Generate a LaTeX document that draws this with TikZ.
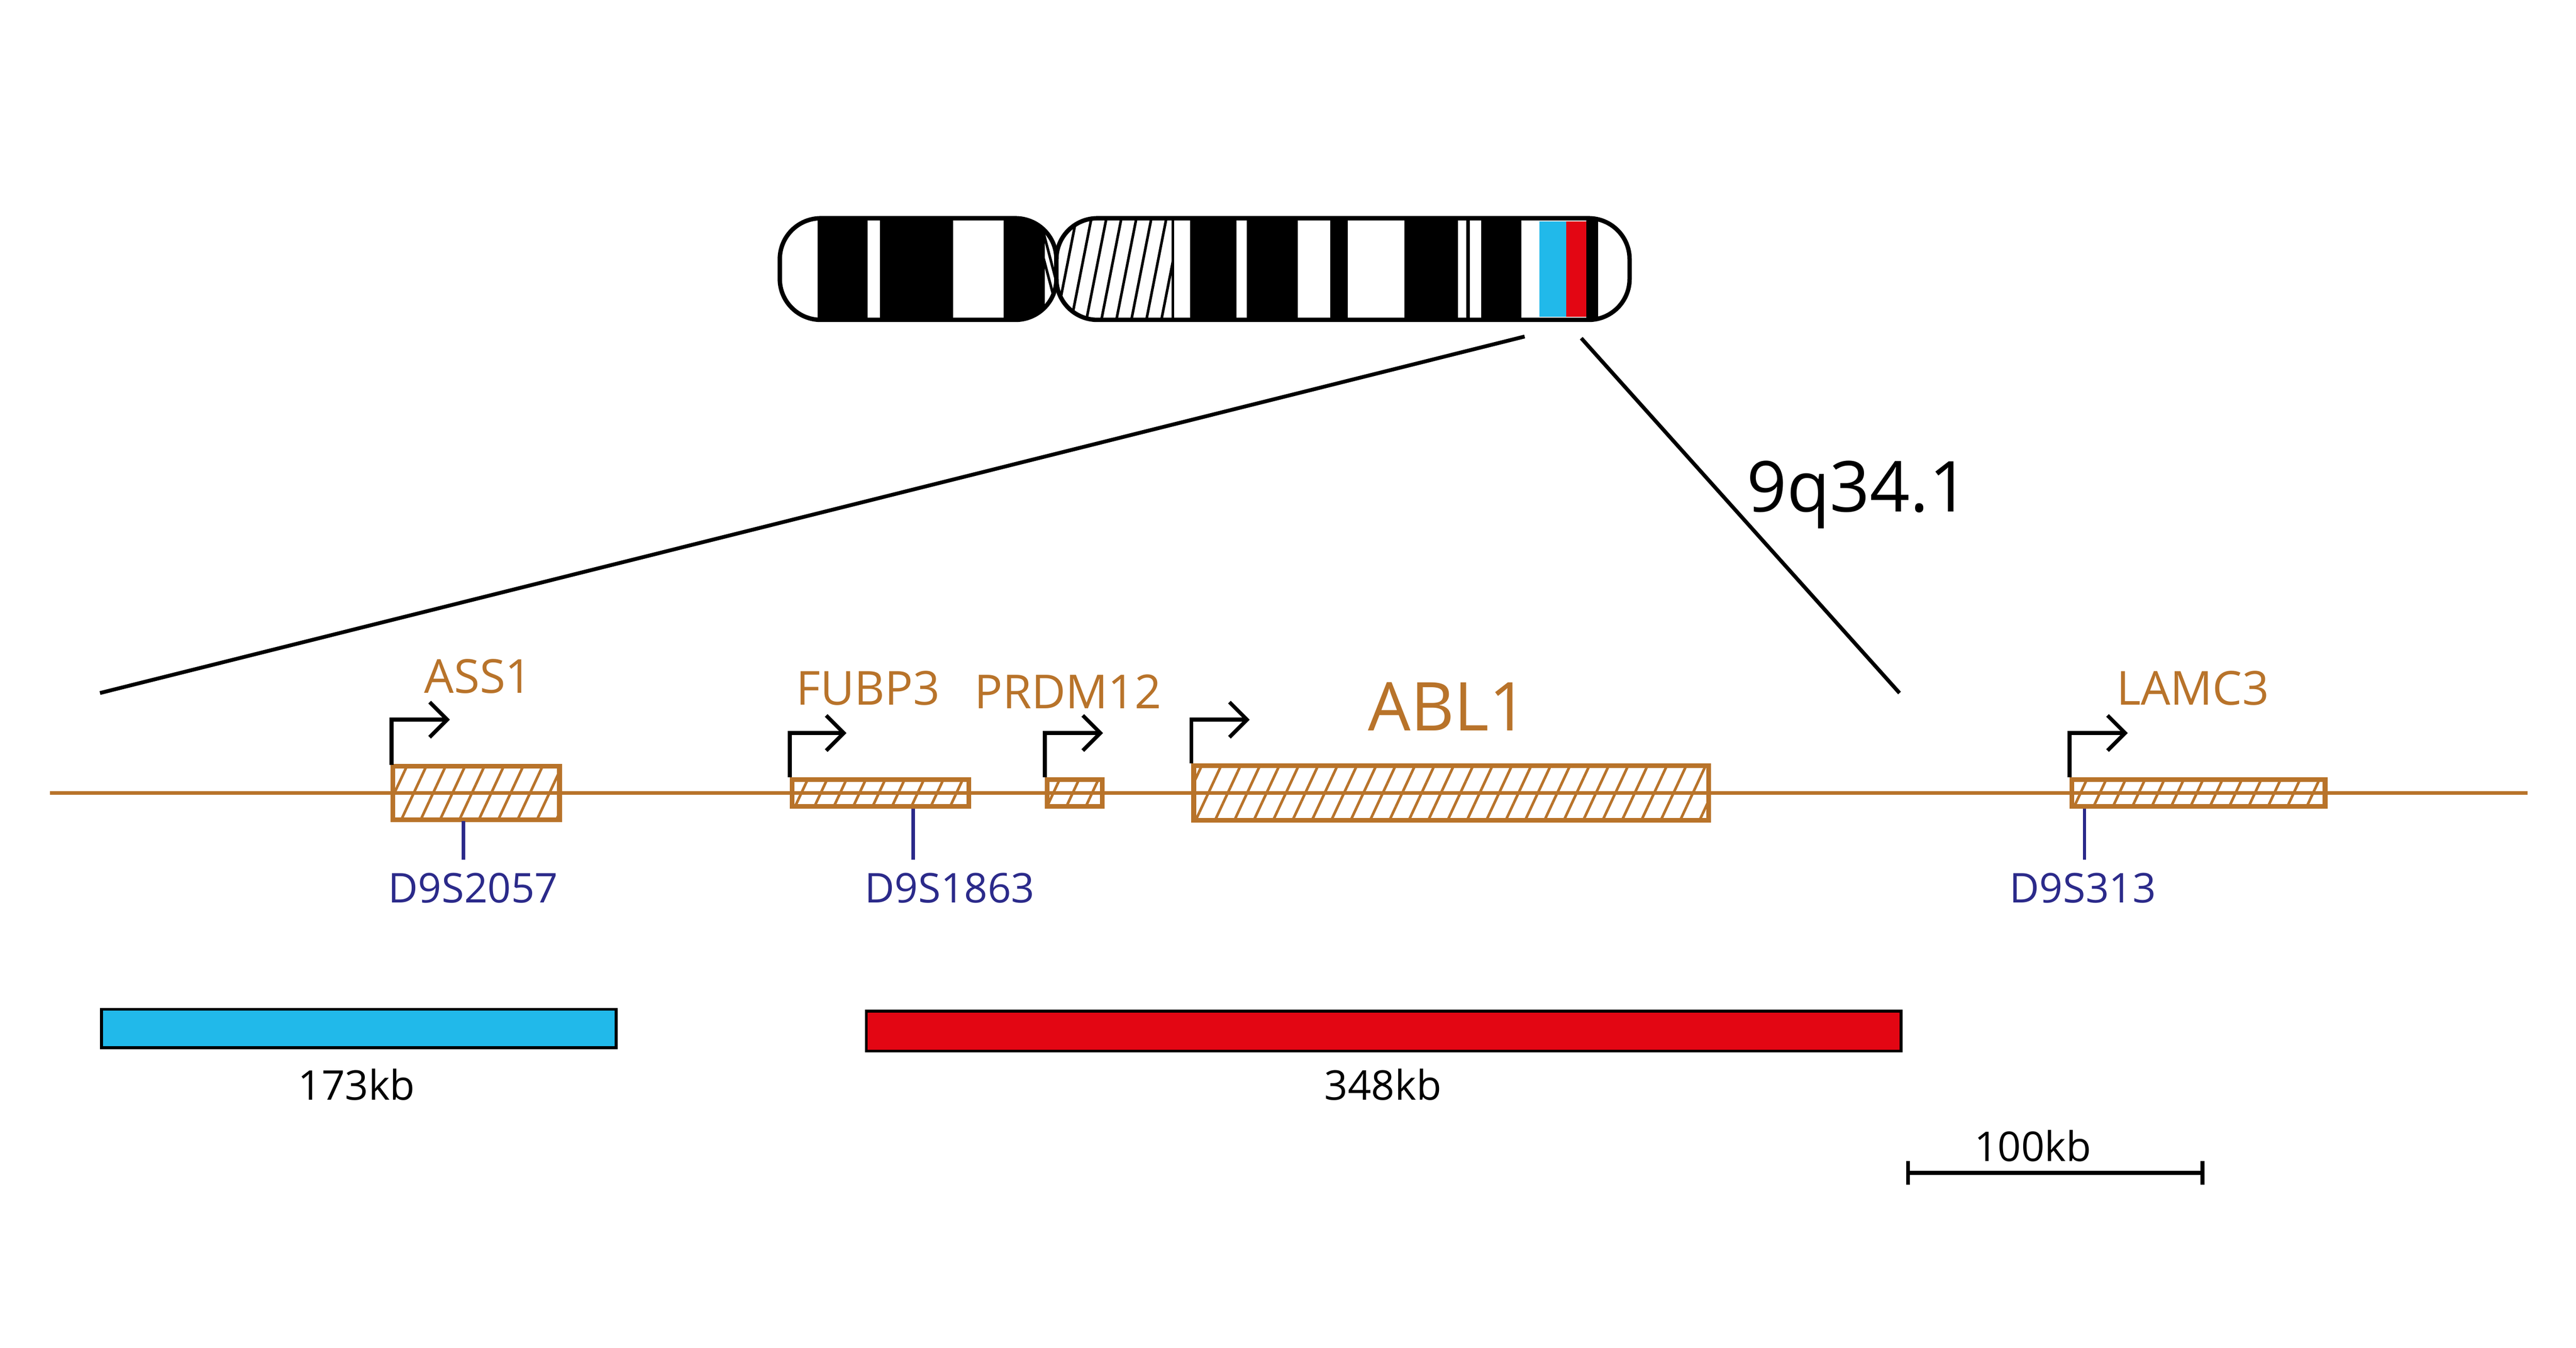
\documentclass[tikz,border=0pt]{standalone}
\usepackage{fontspec}
\setmainfont{Open Sans}
\usetikzlibrary{patterns.meta,arrows.meta}
\definecolor{gene}{HTML}{B8732A}
\definecolor{mknavy}{HTML}{2B2A8A}
\definecolor{cblue}{HTML}{21B9EA}
\definecolor{cred}{HTML}{E30613}
\tikzset{
  genebox/.style={draw=gene,line width=1.6pt,rectangle,inner sep=0pt,
    pattern={Lines[angle=65,distance=6pt,line width=0.9pt]},pattern color=gene},
  glabel/.style={text=gene,font=\fontsize{16}{18}\selectfont,inner sep=0pt},
  mlabel/.style={text=mknavy,font=\fontsize{14}{16}\selectfont,inner sep=0pt},
  klabel/.style={font=\fontsize{14}{16}\selectfont,inner sep=0pt},
  prom/.style={black,line width=1.3pt,-{Straight Barb[length=6pt,width=12pt,line width=1.3pt]}},
  tick/.style={draw=mknavy,line width=1.2pt},
  bar/.style={draw=black,line width=1pt,rectangle,inner sep=0pt},
}
\begin{document}
\begin{tikzpicture}[x=0.02cm,y=-0.02cm]
\useasboundingbox (0,0) rectangle (1546,809);
% chromosome
\begin{scope}
\clip[rounded corners=14] (468,131) rectangle (634,192);
\fill[white] (468,131) rectangle (634,192);
\foreach \a/\b in {490.6/520.7,528/572,602.3/627}{\fill (\a,131) rectangle (\b,192);}
\foreach \i in {0,...,6}{\draw[line width=0.9pt] (620+\i*4,131) -- (636+\i*4,192);}
\end{scope}
\draw[line width=1.5pt,rounded corners=14] (468,131) rectangle (634,192);
\begin{scope}
\clip[rounded corners=14] (634,131) rectangle (978,192);
\fill[white] (634,131) rectangle (978,192);
\foreach \a/\b in {714.4/742,748.4/779,798.3/809,842.8/875,879.9/882,889/913,952/959}{\fill (\a,131) rectangle (\b,192);}
\fill[cblue] (924,133) rectangle (940,190);
\fill[cred] (940,133) rectangle (952,190);
\foreach \i in {0,...,8}{\draw[line width=0.9pt] (634+\i*9,192) -- (646+\i*9,131);}
\fill[white] (704,131) rectangle (714.4,192);
\draw[line width=0.9pt] (704,131) -- (704,192);
\end{scope}
\draw[line width=1.5pt,rounded corners=14] (634,131) rectangle (978,192);
\coordinate (zl) at (915,202);
\coordinate (zr) at (949,203);
\coordinate (el) at (60,416);
\coordinate (er) at (1140,416);
\draw[line width=1.3pt] (zl) -- (el);
\draw[line width=1.3pt] (zr) -- (er);
\node[font=\fontsize{24}{28}\selectfont] (band) at (1115,297) {9q34.1};
% gene line
\coordinate (ls) at (30,476);
\coordinate (le) at (1517,476);
\draw[gene,line width=1.3pt] (ls) -- (le);
% genes
\foreach \n/\x/\w/\h/\ay/\ax in {ass/235/100/32/432/270, fub/474/106/16/440/508, prd/627/33/16/440/662, abl/715/309/33/432/750, lam/1242/152/16/440/1277}{
  \node[genebox,anchor=west,minimum width=\w*0.02cm,minimum height=\h*0.02cm] (\n) at (\x,476) {};
  \coordinate (\n a) at (\ax,\ay);
  \draw[prom] (\n.north west) |- (\n a);
}
\node[glabel] (lass) at (287,406) {ASS1};
\node[glabel] (lfub) at (521,413) {FUBP3};
\node[glabel] (lprd) at (641,415) {PRDM12};
\node[glabel,font=\fontsize{23}{26}\selectfont] (labl) at (869,424) {ABL1};
\node[glabel] (llam) at (1316,413) {LAMC3};
% markers
\coordinate (m1) at (278,516);
\coordinate (m2) at (548,516);
\coordinate (m3) at (1251,516);
\draw[tick] (ass.south -| m1) -- (m1);
\draw[tick] (fub.south -| m2) -- (m2);
\draw[tick] (lam.south -| m3) -- (m3);
\node[mlabel] (t1) at (284,533) {D9S2057};
\node[mlabel] (t2) at (570,533) {D9S1863};
\node[mlabel] (t3) at (1250,533) {D9S313};
% bars
\node[bar,fill=cblue,anchor=north west,minimum width=309*0.02cm,minimum height=23*0.02cm] (bb) at (60,605) {};
\node[bar,fill=cred,anchor=north west,minimum width=621*0.02cm,minimum height=24*0.02cm] (rb) at (519,606) {};
\node[klabel] (k1) at (214,651) {173kb};
\node[klabel] (k2) at (830,651) {348kb};
\coordinate (s1) at (1144,704);
\coordinate (s2) at (1323,704);
\draw[line width=1.3pt,{Bar[width=8pt]}-{Bar[width=8pt]}] (s1) -- (s2);
\node[klabel] (k3) at (1220,688) {100kb};
\end{tikzpicture}
\end{document}
